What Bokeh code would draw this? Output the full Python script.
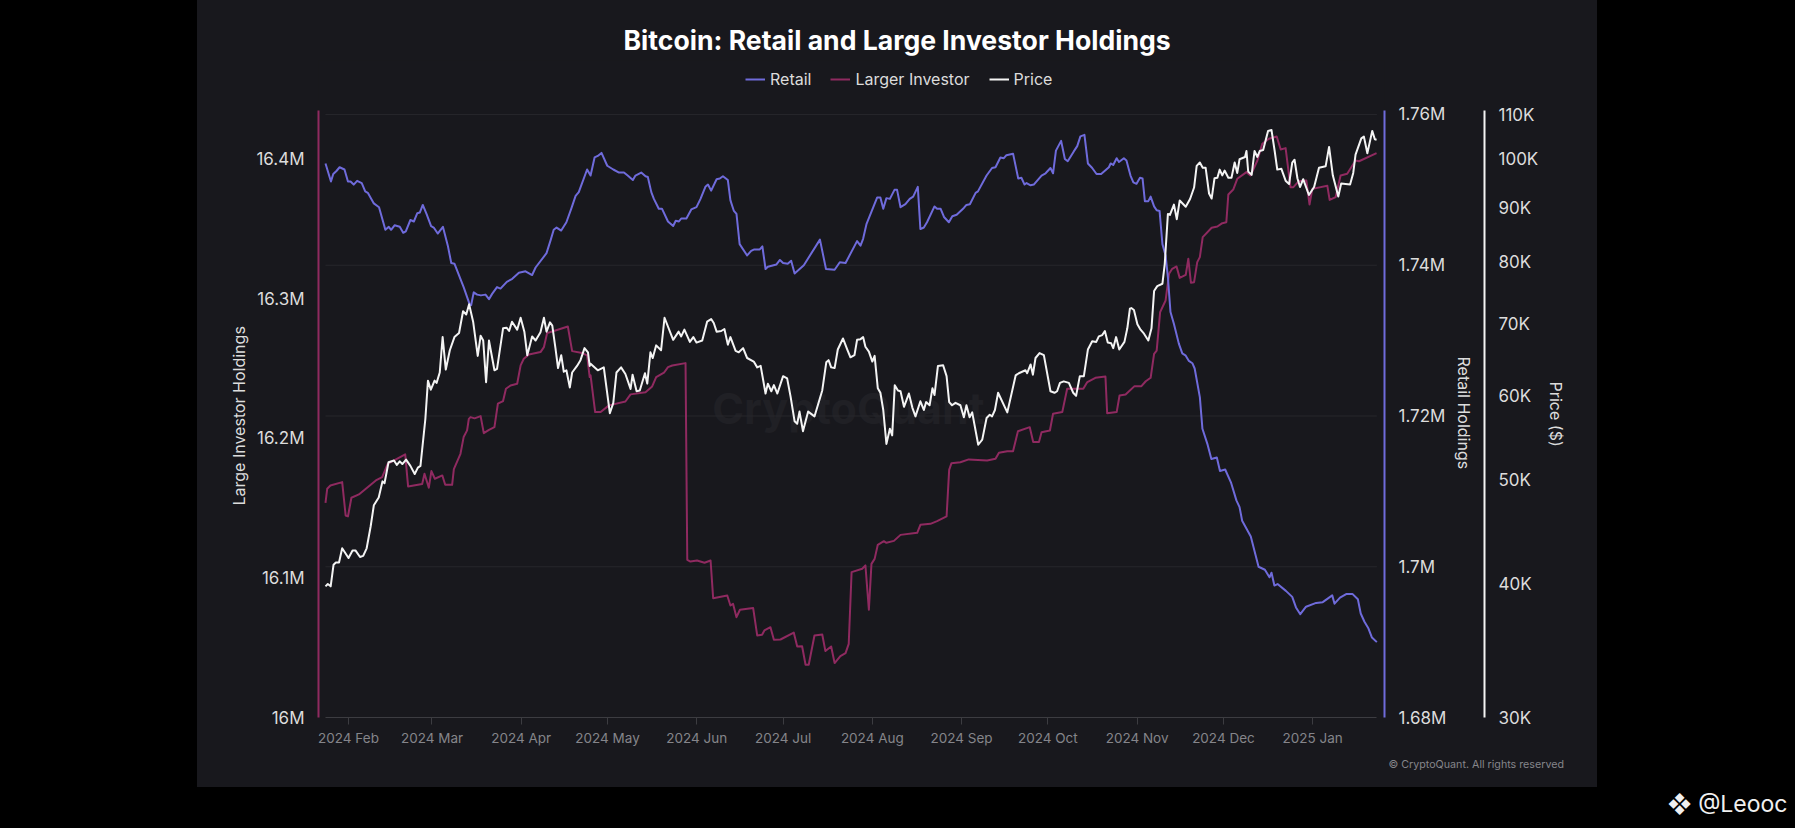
import pandas as pd
from bokeh.plotting import figure
from bokeh.embed import file_html
from bokeh.resources import INLINE
from bokeh.models import (LinearAxis, Range1d, LogScale, FixedTicker, Label,
                          Legend, LegendItem, Title)

START = pd.Timestamp("2024-01-24")
TITLE = "Bitcoin: Retail and Large Investor Holdings"
month_starts = ["2024-02-01","2024-03-01","2024-04-01","2024-05-01","2024-06-01","2024-07-01",
                "2024-08-01","2024-09-01","2024-10-01","2024-11-01","2024-12-01","2025-01-01"]
month_labels = ["2024 Feb","2024 Mar","2024 Apr","2024 May","2024 Jun","2024 Jul",
                "2024 Aug","2024 Sep","2024 Oct","2024 Nov","2024 Dec","2025 Jan"]
large_ticks = [16000,16100,16200,16300,16400]
large_labels = ["16M","16.1M","16.2M","16.3M","16.4M"]
retail_ticks = [1680,1700,1720,1740,1760]
retail_labels = ["1.68M","1.7M","1.72M","1.74M","1.76M"]
price_ticks = [30,40,50,60,70,80,90,100,110]
price_labels = ["30K","40K","50K","60K","70K","80K","90K","100K","110K"]

# Retail holdings (thousand BTC) by day since START
retail_days = [0,1.9,2.7,3.8,4.9,6.6,7.8,8.7,9.8,11,12.6,13.8,14.7,16.8,18.6,20.8,22,22.8,24,25.8,27,27.9,29.5,30.7,31.9,32.8,33.8,35.1,36.7,37.6,39,40.8,42.5,43.7,44.8,48,50,50.6,51.5,52.7,54,55.6,56.8,57.9,59.6,60.8,63,64.9,67.2,69.5,71.8,73,76.8,78.2,79.3,80.3,81.9,83.7,85.4,86.9,88,90.9,92.1,93.5,94.6,95.9,97.9,100,102,103.7,105,106.8,107.7,109.7,111.2,112,113.2,114.1,115.8,116.9,119,120.8,121.7,122.8,123.6,125.4,127.1,128.9,130.3,132,132.9,134,135.9,137,138.1,139.8,140.7,141.9,142.8,143.9,146.5,147.9,149,150.9,151.8,152.9,153.7,156.7,157.9,159,160.6,161.8,163,166.2,171.8,173.9,176.9,178.7,180.7,184.7,185.9,186.8,188,191.7,192.8,193.8,194.9,196.1,197.7,198.6,199.8,201.5,203,204.2,205.8,206.7,207.9,209,211.6,212.5,213.7,214.9,216.6,217.8,219.3,221.8,222.7,223.9,225.9,226.7,229.7,231.6,232.8,234.5,235.7,236.6,238.9,240.7,241.8,242.9,243.6,245,246.1,248.8,250.2,251.9,252.8,253.8,255.6,256.9,257.9,260,261.2,262.3,263.7,264.9,266.4,267.9,269.5,272.2,272.8,273.7,274.9,275.7,277.4,278.3,279.7,280.7,281.8,283,283.9,284.7,285.9,286.7,287.9,288.8,289.8,290.8,291.9,292.7,293.6,294.8,296.5,297.7,298.9,300,301.2,302,303.8,304.7,306.5,307.8,309.7,310.8,312.6,314.6,316.5,317.6,318.5,321.5,324.2,326.4,328,328.7,329.7,330.8,333.7,335.9,337.2,338.7,340.7,344.2,346.5,349.8,350.6,352.5,354.8,356.8,358.7,359.7,361,362.4,363.6,365.3]
retail_values = [1753.5,1751.1,1752.1,1752.5,1753,1752.7,1751.1,1751.1,1750.7,1751.2,1750.9,1749.8,1749.6,1748.2,1747.7,1744.7,1745.1,1744.7,1745.3,1745.1,1744.3,1744.5,1746,1745.8,1746.9,1747,1748,1746.8,1745.2,1745,1744.2,1745.1,1742.6,1740.3,1740.2,1737.1,1734.9,1734.7,1736.4,1736.1,1736,1736.1,1735.5,1736.2,1737.1,1736.9,1737.8,1738.2,1739,1739.2,1738.7,1739.7,1741.6,1743.3,1744.7,1745,1744.6,1745.7,1747.5,1749.2,1749.7,1752.7,1751.9,1754.3,1754.5,1754.9,1753.2,1752.7,1752.3,1752.3,1751.9,1751.3,1751.9,1752.3,1751.8,1751.7,1749.7,1748.8,1747.5,1747.5,1745.8,1745.2,1745.9,1745.8,1746.2,1746.2,1747.4,1747.7,1748.8,1750.4,1750.7,1749.9,1751.4,1751.5,1751.8,1751.3,1748.6,1747.2,1746.8,1742.8,1741.3,1741.9,1742.1,1742.1,1742.5,1739.5,1739.8,1740.1,1740.7,1740.3,1740.2,1740.6,1738.9,1740,1743.4,1739.5,1739.4,1740.4,1740.3,1743.2,1742.6,1743.5,1745.5,1749,1749,1747.5,1748.9,1748.8,1750,1750,1747.7,1748.1,1748.8,1749.1,1750.4,1744.8,1745,1745.7,1747.8,1747.5,1747.5,1746.4,1745.7,1746.5,1746.7,1747.6,1748,1748.1,1749.6,1749.8,1751.9,1752.9,1753,1754.3,1754.2,1754.6,1754.8,1751.5,1751.6,1750.7,1750.9,1750.6,1750.7,1751.9,1752.2,1752.9,1752.2,1755.2,1756.5,1754.1,1753.8,1755.1,1755.8,1757.1,1757.3,1753.5,1752.9,1752.1,1752.1,1753,1753.5,1753.3,1754.2,1753.7,1754.2,1753.9,1751.9,1751,1750.8,1751.6,1751.5,1748.5,1748.5,1749.1,1747.8,1747.3,1747.2,1742.8,1741.3,1738.4,1733.8,1732.2,1729.6,1728.3,1728,1727.3,1727,1726.3,1722.5,1718.3,1716.2,1714.3,1714.5,1712.7,1712.9,1711.2,1708.8,1707.9,1706.1,1704,1700,1699.6,1698.6,1699.2,1697.5,1697.7,1696.8,1696,1694.6,1693.7,1694.7,1695.2,1695.3,1696.2,1695.1,1695.9,1696.4,1696.4,1695.7,1693.8,1692.7,1691.8,1690.6,1690]

# Large investor holdings (thousand BTC)
large_days = [0,0.6,1.7,5.8,7,7.8,9,11.6,17.5,19.7,21.6,27.7,28.7,33.6,34.4,35.9,36.8,38,40.6,41.6,44,44.6,46.9,48,49.2,49.8,50.4,51.8,53.9,55,56.8,58.7,59.9,61.7,62.7,64.3,66.6,67.8,68.9,70.7,74.7,75.9,77,78.8,84.2,85.7,89.2,90.9,91.8,92.1,93.7,95.6,98.5,104.2,106,111.2,113.5,114.9,117.6,119,120.5,125.1,125.7,126.8,129.1,131.7,133.8,134.7,139.6,140.7,141.6,142.8,144,148.6,150,151.7,152.5,154.6,155.8,158.1,162.7,163.9,165.6,166.8,167.9,169.9,172.6,173.7,175.7,176.9,178.9,180.7,181.8,182.8,186.5,187.6,188.8,189.7,190.8,191.9,194,194.9,197.5,199.8,205.6,206.7,210.2,212.5,215.8,216.7,217.5,220.6,223.5,229.9,232.8,234,236.9,238.9,240.6,244.7,245.9,247.9,248.8,251.7,252.8,256,257.7,263.3,264.7,267.5,271,271.6,274.9,275.9,278,281.1,283.5,285,286.7,287.9,288.8,290,291.9,293.1,294.2,295.7,296.8,298.9,299.8,300.7,301.8,302.9,303.8,304.8,307.9,309.9,311.6,313,313.7,315.4,316.8,320,321.4,323.8,325.5,327.8,330.5,331.9,333.6,335.3,336.3,338.2,340.8,341.9,342.9,348.1,348.9,351,352.7,355,357.9,359.1,365.2]
large_values = [16153.9,16164,16166.3,16168.7,16144.8,16144.1,16157.5,16159.9,16169.9,16172.3,16181.8,16188.6,16165.6,16167.3,16174.7,16164.7,16176.6,16171.1,16173.5,16166.8,16166.8,16178,16189,16201,16205.8,16214,16215.3,16214.4,16216,16203.8,16206.2,16208.1,16224.9,16226.8,16235.6,16238,16239.2,16252.4,16257.1,16260.2,16261.9,16265.5,16275.5,16276.7,16280.3,16262.6,16261.2,16259.5,16244,16245.2,16218.9,16218.9,16223.7,16226.5,16231.6,16233.2,16237.3,16244,16247.1,16251.1,16252.3,16254,16113,16111.8,16112.5,16110.9,16112.5,16085.5,16087.4,16080.3,16081.5,16071.9,16077.2,16078.4,16058.8,16059.3,16062.4,16064.7,16055.7,16055.9,16060.9,16050.9,16051.1,16037.8,16037.8,16058.8,16059.5,16047.6,16050.9,16039,16044,16046.1,16052.8,16104.2,16106.6,16109,16077.2,16110.1,16113.7,16123.8,16126.4,16125.2,16126.6,16130.9,16132.4,16138.1,16138.8,16140.7,16144.1,16177.5,16182.3,16183,16185,16184.2,16185.4,16189.7,16190.9,16190.9,16205.2,16208.1,16197.4,16197.4,16204.5,16205.7,16217.7,16218.9,16235.6,16235.6,16240.4,16243.5,16244.4,16218.1,16218.9,16230.8,16231.5,16237.5,16237.5,16241,16243.5,16260.7,16263,16290.5,16298.9,16318,16321.6,16323.3,16315.1,16317.3,16328.8,16311.6,16312,16326.4,16330,16344.3,16351,16351.9,16354.3,16355,16374.9,16378.4,16386.1,16390.9,16388.5,16399.2,16411.2,16414.8,16416.4,16407.1,16408.1,16380.1,16380.1,16384.4,16384.9,16367.7,16378.9,16381.1,16371,16373,16388.5,16389.7,16399.2,16398.7,16404.5]

# BTC price (thousand USD)
price_days = [0,0.8,1.8,2.8,3.6,4.7,5.8,8,9.4,10.4,12,13.1,14.3,15.7,16.8,18.5,19.8,20.5,21.9,23.8,24.8,25.8,26.7,28,29.5,31,32.1,33,34.7,35.6,36.6,37.9,38.6,39.7,40.7,41.8,43.2,44.8,46.4,47.8,48.9,49.9,51.3,52.9,53.9,54.8,55.8,56.8,58.7,59.6,61.7,62.9,63.8,64.8,66.6,67.8,69.1,70.1,71.8,73,74.7,75.9,76.8,78,78.8,79.9,80.8,81.9,82.8,83.7,84.9,85.7,87.4,88.6,90,91.2,91.8,92.1,94.6,96.7,98.8,100,101.1,102.7,104.2,106,106.7,108.1,109.2,111,111.8,112.9,113.7,114.9,116.6,117.8,120.8,122.7,123.6,124.7,126.6,127.8,128.9,130.9,132.6,134,134.9,135.9,137.5,138.6,139.8,140.7,142.5,143.6,145.1,146.5,148.8,150,151.2,152.9,153.7,154.9,155.8,157,159,160.4,161.6,163,163.9,164.7,165.9,167.7,169.9,172.6,174,174.8,175.7,176.9,178,179.8,181.3,182.4,183.8,184.7,185.9,186.8,187.6,188.8,190,190.8,191.9,192.8,193.8,194.9,196.1,196.9,197.8,198.9,199.8,201,202.7,203.9,205,206.7,207.9,208.7,209.9,210.9,211.6,212.8,214.6,215.8,216.7,217.7,218.9,220.6,221.8,222.7,223.8,224.7,226.8,228.2,229.7,230.8,231.6,232.6,233.7,236.9,239.8,240.9,243.2,243.8,245,245.8,246.7,248.1,249.6,251.9,253.3,254.2,255.2,256.5,258.3,259.8,260.8,262.1,263.5,264.9,266.4,267.8,268.7,269.9,270.8,271.8,273,273.7,274.7,275.8,277.6,278.6,279.5,280,280.9,282.1,283.2,284.4,285.9,287,287.9,289,290.8,291.6,292.7,293.4,294.8,295.8,296.8,298.9,300.4,301.8,302.7,303.8,304.8,305.8,307,307.9,308.9,309.9,310.7,311.6,312.4,313.7,314.8,315.9,316.8,317.6,319.5,320,320.6,321.8,322.8,323.8,324.6,325.8,327.5,328.7,329.8,330.7,332.1,333.6,334.8,335.9,336.7,337.7,338.6,339.7,341.7,343.5,345.2,347.5,348.7,350,351.9,352.9,356,357.1,357.9,359.9,360.8,362,363.7,364.6,365.2]
price_values = [39.8,40,39.8,41.7,41.9,41.9,43.2,42.3,43,43,42.4,42.5,43.2,45.3,47.4,48.2,49.9,49.7,52,52.2,51.7,52.1,51.8,52.3,51.6,50.7,51.4,51.6,57.1,62,60.8,62,61.7,63.1,68.1,63.5,66.2,68.1,68.7,72,71.5,73.1,70.4,65.4,68.3,67.6,61.8,67.6,63.4,63.6,69.4,69.5,69,70.4,69.2,71,68.9,65.5,68.2,67.6,68.8,71,68.9,70.3,69.8,66.5,63.7,65.5,63.2,63.4,61.1,63.1,64,64.8,66.5,65.9,64,64.3,63.4,63.8,57.8,59.1,63.1,63.8,62.9,60.9,62.8,60.6,60.7,63,61.6,65.9,65.1,66.9,66.2,71,67.7,68.9,68.2,69.2,67.4,68.1,67.3,67.6,70.4,70.8,70.2,68.9,69,69.3,67,68.1,66.1,65.9,66.5,65.1,64.6,63.8,64,60.3,61.6,60.6,61.4,60.3,62.6,62.3,59.9,56.8,56.5,58,55.6,58,57.4,60.7,64.5,64.8,63.8,63.7,66.3,67.9,66.3,65.2,65.5,67.7,67.8,68.1,66.7,66,64.6,65.4,61,60.4,58.2,54.1,55.9,55.1,61.4,60.7,60.6,58.6,60.3,58.5,57.4,59.3,58.2,59.2,58.8,61,60.1,64,64.1,62.6,59.2,58.8,59.1,58.8,57.3,58.8,57.3,57.9,54,54.6,57.2,57.6,57.4,58.2,60.4,57.9,62.7,63,63.4,63,64.2,62.8,65.1,65.8,65.5,60.6,60.4,60.6,61.7,61.9,61.7,60.4,60,62.6,62.6,66.3,67.5,67.4,68.2,68.4,69,67.3,67.2,66.5,68.1,66.3,67.4,69.4,72.4,72.5,72.2,70,69.2,68.6,67.6,69.4,75.2,76,76.4,79.7,88.8,88.6,90.6,87.8,91.4,90.2,91.7,94,98.5,99.2,98.1,98.1,92.8,91.8,95.9,96,97.7,96.5,97.5,96,96,99.2,97,99.9,100.4,101.7,97.3,96.6,101.7,100.4,101.7,101.9,106.2,106.4,101.7,97.7,97.9,95.4,94.7,99.2,99.8,95.9,94.1,95.7,92.5,94.1,98.1,98.4,102.6,96.5,92.2,94.8,94.6,97,100.9,104.5,104.9,101.2,106.2,104.3,104.2]

RETAIL_C, LARGE_C, PRICE_C = "#6f6bdb", "#8f2a60", "#f4f4f4"
PANEL, TXT, MUTED = "#18181d", "#dcdcdc", "#85858a"
FONT = "Inter"
W, H = 1795, 828

p = figure(width=W, height=H, output_backend="svg", toolbar_location=None,
           x_range=Range1d(-2.43, 367.96), y_range=Range1d(16000, 16470.9),
           background_fill_color=PANEL, border_fill_alpha=0, outline_line_color=None,
           min_border_left=318, min_border_right=411, min_border_top=60, min_border_bottom=111)
p.styles = {"background": f"linear-gradient({PANEL},{PANEL}) 197px 0/1400px 787px no-repeat, #000"}
p.xgrid.visible = False
p.ygrid.visible = False
p.xaxis.visible = False
p.yaxis.visible = False
p.extra_y_ranges = {"retail": Range1d(1680, 1767.16), "price": Range1d(30, 123.6)}
p.extra_y_scales = {"price": LogScale()}

p.segment(x0=[retail_days[0]]*4, x1=[retail_days[-1]]*4, y0=retail_ticks[1:], y1=retail_ticks[1:],
          y_range_name="retail", line_color="#27272c", line_width=1)
p.add_layout(Label(x=181.7, y=1721, y_range_name="retail", text="CryptoQuant", text_color="#202025", text_font=FONT,
                   text_font_style="bold", text_font_size="43px", text_align="center", text_baseline="middle", level="underlay"))

r_large = p.line(large_days, large_values, line_color=LARGE_C, line_width=2, line_join="round")
r_retail = p.line(retail_days, retail_values, line_color=RETAIL_C, line_width=2, line_join="round", y_range_name="retail")
r_price = p.line(price_days, price_values, line_color=PRICE_C, line_width=2, line_join="round", y_range_name="price")

def style(ax, ticks, labels, color, bounds):
    ax.ticker = FixedTicker(ticks=ticks)
    ax.major_label_overrides = dict(zip(ticks, labels))
    ax.bounds = bounds
    ax.axis_line_color = color
    ax.axis_line_width = 2
    ax.major_tick_line_color = None
    ax.minor_tick_line_color = None
    ax.major_tick_out = 0
    ax.major_tick_in = 0
    ax.minor_tick_out = 0
    ax.minor_tick_in = 0
    ax.major_label_standoff = 14
    ax.major_label_text_color = TXT
    ax.major_label_text_font = FONT
    ax.major_label_text_font_size = "17px"

def side_title(text, offset, standoff):
    return Title(text=text, text_color=TXT, text_font=FONT, text_font_size="16px", text_font_style="normal",
                 align="left", offset=offset, standoff=standoff)

left = LinearAxis()
style(left, large_ticks, large_labels, LARGE_C, (16000, 16435.1))
p.add_layout(left, "left")
p.add_layout(side_title("Large Investor Holdings", 212, 9), "left")

right1 = LinearAxis(y_range_name="retail")
style(right1, retail_ticks, retail_labels, RETAIL_C, (1680, 1760.53))
p.add_layout(right1, "right")
p.add_layout(side_title("Retail Holdings", 296, 8), "right")

spacer = LinearAxis(y_range_name="retail", ticker=FixedTicker(ticks=[1700]), major_label_overrides={1700: ""},
                    axis_line_color=None, major_tick_line_color=None, minor_tick_line_color=None,
                    major_tick_out=5, major_tick_in=0, minor_tick_out=0, minor_tick_in=0,
                    major_label_standoff=0, major_label_text_color=None)
p.add_layout(spacer, "right")

right2 = LinearAxis(y_range_name="price")
style(right2, price_ticks, price_labels, PRICE_C, (30, 110.97))
p.add_layout(right2, "right")
p.add_layout(side_title("Price ($)", 321, 9), "right")

tick_days = [(pd.Timestamp(m) - START).days for m in month_starts]
bottom = LinearAxis(ticker=FixedTicker(ticks=tick_days), major_label_overrides=dict(zip(tick_days, month_labels)),
                    bounds=(retail_days[0], retail_days[-1]), axis_line_color="#3c3c41", axis_line_width=1,
                    major_tick_line_color="#3c3c41", major_tick_out=7, major_tick_in=0,
                    minor_tick_line_color=None, minor_tick_out=0, minor_tick_in=0,
                    major_label_standoff=5, major_label_text_color=MUTED, major_label_text_font=FONT,
                    major_label_text_font_size="13.5px")
p.add_layout(bottom, "below")
p.add_layout(Title(text="© CryptoQuant. All rights reserved", text_color=MUTED, text_font=FONT, text_font_size="10.7px",
                   text_font_style="normal", align="left", offset=1070, standoff=15), "below")
p.add_layout(Title(text="❖ @Leooc", text_color="#f0f0f0", text_font=FONT, text_font_size="23px",
                   text_font_style="normal", align="left", offset=1349, standoff=18), "below")

p.title = Title(text=TITLE, text_color="#ffffff", text_font=FONT, text_font_size="26.6px", text_font_style="bold",
                align="left", offset=305, standoff=9)

legend = Legend(items=[LegendItem(label="Retail", renderers=[r_retail]),
                       LegendItem(label="Larger Investor", renderers=[r_large]),
                       LegendItem(label="Price", renderers=[r_price])],
                orientation="horizontal", location=(427, 628), background_fill_alpha=0, border_line_color=None,
                label_text_color=TXT, label_text_font=FONT, label_text_font_size="16px",
                glyph_width=20, glyph_height=16, label_standoff=5, spacing=19, padding=0, margin=0)
p.add_layout(legend, "center")

open("out.html", "w").write(file_html(p, INLINE))
